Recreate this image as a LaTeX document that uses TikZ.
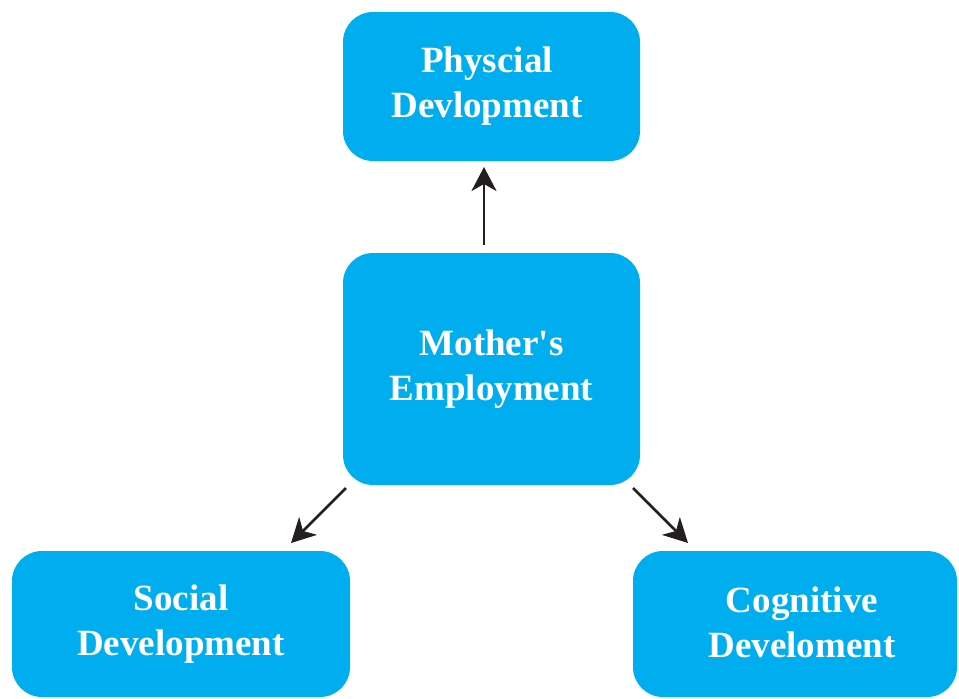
\documentclass[tikz,border=0pt]{standalone}
\usepackage{fontspec}
\setmainfont{Liberation Serif}[Ligatures=TeXOff]
\usetikzlibrary{arrows.meta}
\definecolor{boxcyan}{HTML}{00AEEF}
\definecolor{arrowdark}{HTML}{231F20}
\tikzset{
  box/.style={fill=boxcyan, rounded corners=30pt, inner sep=0pt, outer sep=0pt,
    text=white, font=\bfseries\fontsize{37}{45}\selectfont, align=center},
  txt/.style={text=white, font=\bfseries\fontsize{37}{45}\selectfont, align=center, inner sep=0pt},
  arr/.style={draw=arrowdark, line width=2.8pt, -{Stealth[length=24pt,width=25pt,inset=7pt]}}
}
\begin{document}
\begin{tikzpicture}[x=1pt,y=-1pt]
\useasboundingbox (0,0) rectangle (959,699);
\node[box, minimum width=297pt, minimum height=149pt] (top) at (491.5,86.5) {};
\node[txt] (toptext) at (487,86) {Physcial\\Devlopment};
\node[box, minimum width=297pt, minimum height=232pt] (mid) at (491.5,369) {Mother's\\Employment};
\node[box, minimum width=338pt, minimum height=146pt] (left) at (181,624) {Social\\Development};
\node[box, minimum width=324pt, minimum height=146pt] (right) at (795,624) {};
\node[txt] (righttext) at (802,622) {Cognitive\\Develoment};
\draw[arr] ([xshift=-7.5pt,yshift=8pt]mid.north) -- ([xshift=-7.5pt,yshift=-6pt]top.south);
\draw[arr] ([xshift=3pt,yshift=-3pt]mid.south west) -- ([xshift=-59pt,yshift=8pt]left.north east);
\draw[arr] ([xshift=-7pt,yshift=-3pt]mid.south east) -- ([xshift=55pt,yshift=8pt]right.north west);
\end{tikzpicture}
\end{document}
